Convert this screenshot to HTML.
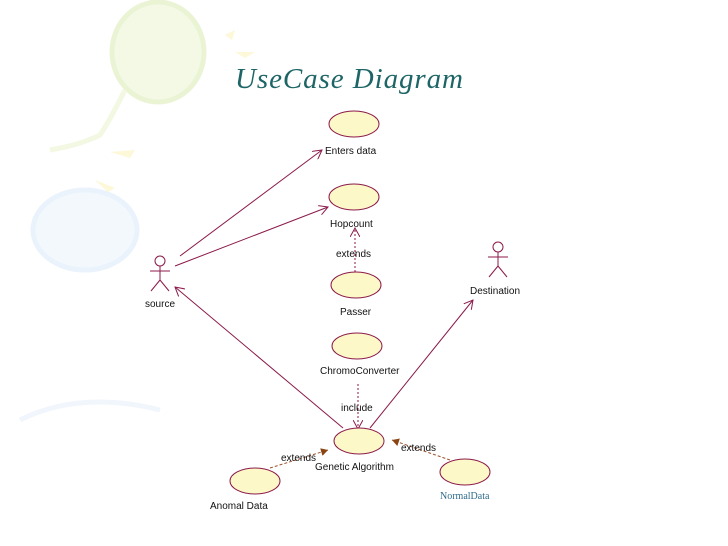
<!DOCTYPE html>
<html><head><meta charset="utf-8"><style>
html,body{margin:0;padding:0;background:#fff;}
svg{display:block}
text{font-family:"Liberation Sans",sans-serif;font-size:10px;fill:#111}
</style></head><body>
<svg width="728" height="546" viewBox="0 0 728 546" xmlns="http://www.w3.org/2000/svg">
<defs>
<marker id="a" markerWidth="10" markerHeight="10" refX="9" refY="5" orient="auto" markerUnits="userSpaceOnUse"><path d="M0,0 L9,5 L0,10" fill="none" stroke="#8b1a4a" stroke-width="1"/></marker>
<marker id="b" markerWidth="8" markerHeight="8" refX="7" refY="4" orient="auto" markerUnits="userSpaceOnUse"><path d="M0,0 L7,4 L0,8 z" fill="#8b4513"/></marker>
</defs>
<!-- background decorations -->
<ellipse cx="158" cy="52" rx="46" ry="50" fill="#f3f9e4" stroke="#eaf4d4" stroke-width="5"/>
<path d="M125,90 Q110,120 100,135 Q80,145 50,150" fill="none" stroke="#f2f8e2" stroke-width="5"/>
<ellipse cx="85" cy="230" rx="52" ry="40" fill="#f3f8fd" stroke="#eaf3fc" stroke-width="5"/>
<path d="M20,420 Q80,390 160,410" fill="none" stroke="#f1f6fc" stroke-width="5"/>
<polygon points="225,35 235,30 232,40" fill="#fcf8d8"/>
<polygon points="235,52 255,52 245,58" fill="#fcf8d8"/>
<polygon points="110,152 135,150 130,158" fill="#fcf8d8"/>
<polygon points="95,180 115,188 108,192" fill="#fcf8d8"/>
<text x="235" y="88" textLength="228" style="font-family:'Liberation Serif',serif;font-style:italic;font-size:29px;fill:#1d6566">UseCase Diagram</text>
<!-- connectors -->
<g stroke="#8b1a4a" stroke-width="1" fill="none">
<line x1="180" y1="256" x2="322" y2="150" marker-end="url(#a)"/>
<line x1="175" y1="266" x2="328" y2="207" marker-end="url(#a)"/>
<line x1="343" y1="428" x2="175" y2="287" marker-end="url(#a)"/>
<line x1="370" y1="428" x2="473" y2="300" marker-end="url(#a)"/>
<line x1="355" y1="272" x2="355" y2="228" stroke-dasharray="2,2" marker-end="url(#a)"/>
<line x1="358" y1="384" x2="358" y2="429" stroke-dasharray="2,2" marker-end="url(#a)"/>
</g>
<g stroke="#a0522d" stroke-width="1" fill="none" stroke-dasharray="3,2">
<line x1="270" y1="468" x2="328" y2="450" marker-end="url(#b)"/>
<line x1="450" y1="460" x2="392" y2="440" marker-end="url(#b)"/>
</g>
<!-- use cases -->
<g fill="#fdf8c8" stroke="#8b1a4a" stroke-width="1">
<ellipse cx="354" cy="124" rx="25" ry="13"/>
<ellipse cx="354" cy="197" rx="25" ry="13"/>
<ellipse cx="356" cy="285" rx="25" ry="13"/>
<ellipse cx="357" cy="346" rx="25" ry="13"/>
<ellipse cx="359" cy="441" rx="25" ry="13"/>
<ellipse cx="255" cy="481" rx="25" ry="13"/>
<ellipse cx="465" cy="472" rx="25" ry="13"/>
</g>
<!-- actors -->
<g stroke="#8b1a4a" stroke-width="1" fill="none">
<circle cx="160" cy="261" r="5"/><line x1="160" y1="266" x2="160" y2="280"/><line x1="150" y1="271" x2="170" y2="271"/><line x1="160" y1="280" x2="151" y2="291"/><line x1="160" y1="280" x2="169" y2="291"/>
<circle cx="498" cy="247" r="5"/><line x1="498" y1="252" x2="498" y2="266"/><line x1="488" y1="257" x2="508" y2="257"/><line x1="498" y1="266" x2="489" y2="277"/><line x1="498" y1="266" x2="507" y2="277"/>
</g>
<text x="325" y="154">Enters data</text>
<text x="330" y="227">Hopcount</text>
<text x="336" y="257">extends</text>
<text x="340" y="315">Passer</text>
<text x="320" y="374">ChromoConverter</text>
<text x="341" y="411">include</text>
<text x="315" y="470">Genetic Algorithm</text>
<text x="281" y="461">extends</text>
<text x="401" y="451">extends</text>
<text x="210" y="509">Anomal Data</text>
<text x="440" y="499" style="font-family:'Liberation Serif',serif;font-size:10px;fill:#2e6b8a">NormalData</text>
<text x="145" y="307">source</text>
<text x="470" y="294">Destination</text>
</svg>
</body></html>
